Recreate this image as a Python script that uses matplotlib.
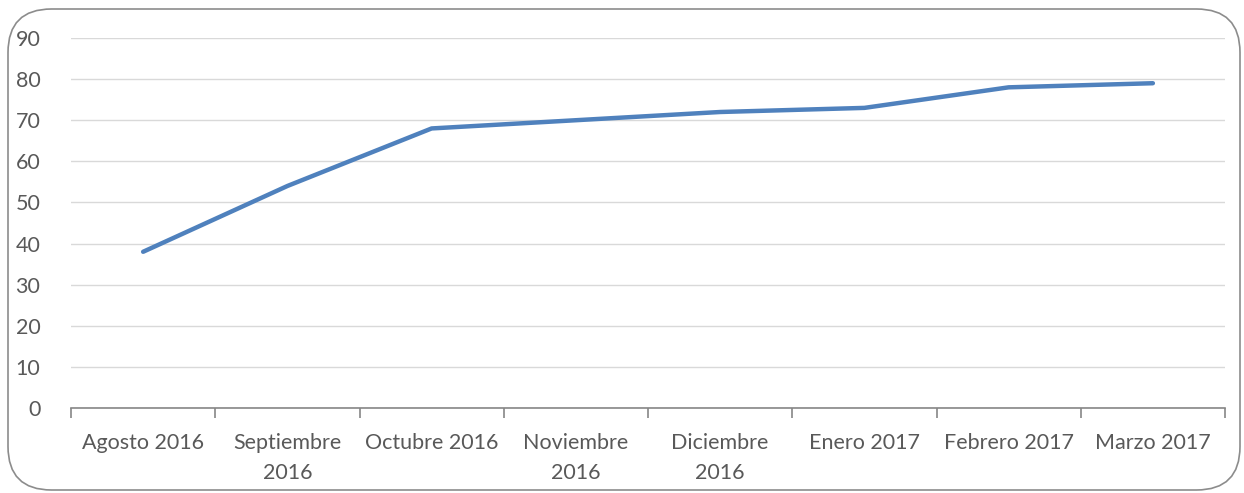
import numpy as np
import matplotlib.pyplot as plt
from matplotlib.patches import FancyBboxPatch

meses = ['Agosto 2016', 'Septiembre\n2016', 'Octubre 2016', 'Noviembre\n2016',
         'Diciembre\n2016', 'Enero 2017', 'Febrero 2017', 'Marzo 2017']
valores = [38, 54, 68, 70, 72, 73, 78, 79]

plt.rcParams['font.family'] = ['Lato', 'DejaVu Sans']

fig = plt.figure(figsize=(12.44, 4.93), dpi=100)
ax = fig.add_axes([71/1244, 1 - 408/493, (1225 - 71)/1244, (408 - 38)/493])

x = np.arange(len(meses))
ax.plot(x, valores, color='#4F81BD', lw=3.2, solid_capstyle='round', solid_joinstyle='round', zorder=3)

ax.set_xlim(-0.5, len(meses) - 0.5)
ax.set_ylim(0, 90)
ax.set_yticks(range(0, 91, 10))
ax.yaxis.grid(True, color='#D9D9D9', lw=1)
ax.set_axisbelow(True)
for s in ['top', 'right', 'left']:
    ax.spines[s].set_visible(False)
ax.spines['bottom'].set_color('#868686')
ax.spines['bottom'].set_linewidth(1.2)

ax.set_xticks(x)
ax.set_xticklabels(meses)
ax.set_xticks(np.arange(-0.5, len(meses), 1), minor=True)
ax.tick_params(axis='x', which='major', length=0, pad=18, labelsize=15.5, labelcolor='#595959')
ax.tick_params(axis='x', which='minor', length=7, color='#868686', width=1.2)
ax.tick_params(axis='y', length=0, pad=22, labelsize=15.5, labelcolor='#595959')
for lbl in ax.get_yticklabels():
    lbl.set_horizontalalignment('right')
for lbl in ax.get_xticklabels():
    lbl.set_verticalalignment('top')
    lbl.set_linespacing(1.65)

# marco redondeado
marco = FancyBboxPatch((8/1244, 3/493), 1232/1244, 481/493,
                       boxstyle='round,pad=0,rounding_size=0.035',
                       transform=fig.transFigure, fill=False,
                       edgecolor='#8C8C8C', lw=1.2, mutation_aspect=1244/493)
fig.patches.append(marco)

fig.savefig('out.png', dpi=100)
